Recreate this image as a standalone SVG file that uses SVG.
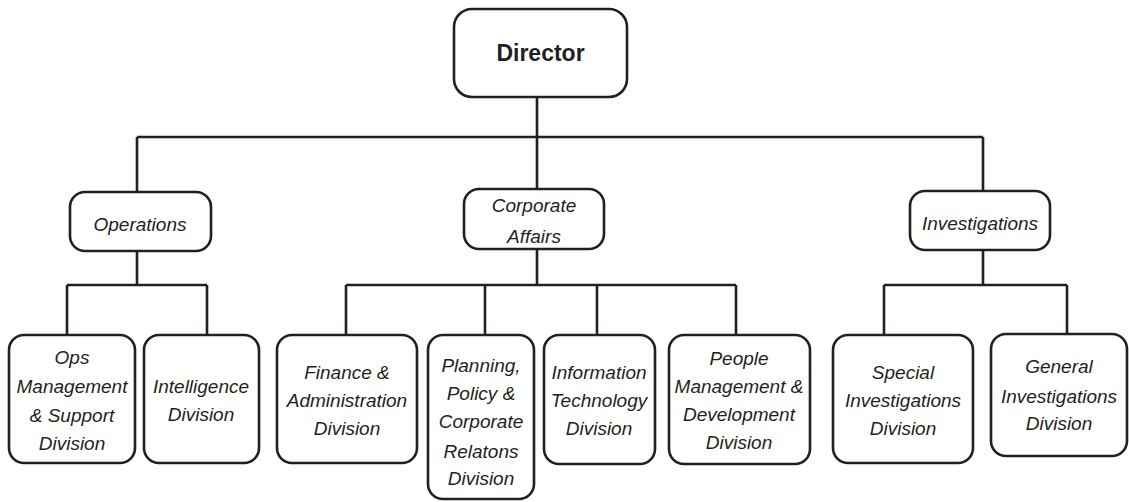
<svg xmlns="http://www.w3.org/2000/svg" width="1129" height="502" viewBox="0 0 1129 502">
  <style>
    .box { fill: #ffffff; stroke: #231f20; stroke-width: 2.6; }
    .wire { fill: none; stroke: #231f20; stroke-width: 2.6; stroke-linejoin: miter; }
    text { font-family: "Liberation Sans", Arial, sans-serif; fill: #231f20; text-anchor: middle; }
    .unit { font-size: 19px; font-style: italic; }
    .head { font-size: 23px; font-weight: bold; }
  </style>

  <!-- connectors -->
  <g id="connectors" class="wire">
    <path d="M537 97 V137 M137 137 H983 M137 137 V192 M537 137 V189 M983 137 V191"/>
    <path d="M137 251 V285 M67 285 H207 M67 285 V335 M207 285 V335"/>
    <path d="M537 249 V285 M346 285 H736 M346 285 V335 M485 285 V335 M597 285 V335 M736 285 V335"/>
    <path d="M983 250 V285 M884 285 H1067 M884 285 V335 M1067 285 V334"/>
  </g>

  <g id="director">
    <rect class="box" x="454" y="9" width="173" height="88" rx="18"/>
    <text class="head" x="540.5" y="61">Director</text>
  </g>

  <g id="operations">
    <rect class="box" x="70" y="192" width="141" height="59" rx="15"/>
    <text class="unit" x="140" y="231">Operations</text>
  </g>

  <g id="corporate-affairs">
    <rect class="box" x="464" y="189" width="140" height="60" rx="15"/>
    <text class="unit" x="534" y="212">Corporate</text>
    <text class="unit" x="534" y="243">Affairs</text>
  </g>

  <g id="investigations">
    <rect class="box" x="910" y="191" width="140" height="59" rx="15"/>
    <text class="unit" x="980" y="230">Investigations</text>
  </g>

  <g id="ops-management">
    <rect class="box" x="9" y="335" width="126" height="128" rx="15"/>
    <text class="unit" x="72" y="364">Ops</text>
    <text class="unit" x="72" y="393">Management</text>
    <text class="unit" x="72" y="422">&amp; Support</text>
    <text class="unit" x="72" y="450">Division</text>
  </g>

  <g id="intelligence">
    <rect class="box" x="144" y="335" width="115" height="128" rx="15"/>
    <text class="unit" x="201" y="393">Intelligence</text>
    <text class="unit" x="201" y="421">Division</text>
  </g>

  <g id="finance">
    <rect class="box" x="277" y="335" width="140" height="128" rx="15"/>
    <text class="unit" x="347" y="379">Finance &amp;</text>
    <text class="unit" x="347" y="407">Administration</text>
    <text class="unit" x="347" y="435">Division</text>
  </g>

  <g id="planning">
    <rect class="box" x="428" y="335" width="106" height="164" rx="15"/>
    <text class="unit" x="481" y="372">Planning,</text>
    <text class="unit" x="481" y="400">Policy &amp;</text>
    <text class="unit" x="481" y="428">Corporate</text>
    <text class="unit" x="481" y="458">Relatons</text>
    <text class="unit" x="481" y="485">Division</text>
  </g>

  <g id="information-technology">
    <rect class="box" x="544" y="335" width="111" height="129" rx="15"/>
    <text class="unit" x="599" y="379">Information</text>
    <text class="unit" x="599" y="407">Technology</text>
    <text class="unit" x="599" y="435">Division</text>
  </g>

  <g id="people">
    <rect class="box" x="669" y="335" width="141" height="129" rx="15"/>
    <text class="unit" x="739" y="365">People</text>
    <text class="unit" x="739" y="393">Management &amp;</text>
    <text class="unit" x="739" y="421">Development</text>
    <text class="unit" x="739" y="449">Division</text>
  </g>

  <g id="special-investigations">
    <rect class="box" x="833" y="335" width="140" height="128" rx="15"/>
    <text class="unit" x="903" y="379">Special</text>
    <text class="unit" x="903" y="407">Investigations</text>
    <text class="unit" x="903" y="435">Division</text>
  </g>

  <g id="general-investigations">
    <rect class="box" x="991" y="334" width="136" height="122" rx="15"/>
    <text class="unit" x="1059" y="373">General</text>
    <text class="unit" x="1059" y="403">Investigations</text>
    <text class="unit" x="1059" y="430">Division</text>
  </g>
</svg>
